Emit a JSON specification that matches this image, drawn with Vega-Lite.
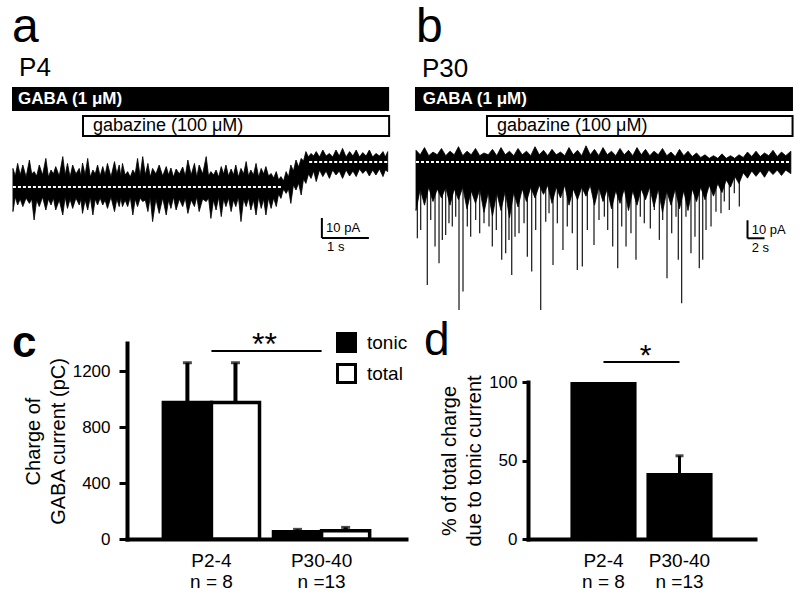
{
  "$schema": "https://vega.github.io/schema/vega-lite/v6.json",
  "background": "white",
  "padding": {"left": 11, "top": 0, "right": 7, "bottom": 0},
  "config": {
    "font": "Liberation Sans",
    "view": {"stroke": null},
    "axis": {"labelColor": "black", "titleColor": "black", "domainColor": "black", "tickColor": "black", "grid": false},
    "legend": {"labelColor": "black"}
  },
  "resolve": {"scale": {"x": "independent", "y": "independent", "fill": "independent"}, "legend": {"fill": "independent"}},
  "spacing": 0,
  "vconcat": [
    {
      "hconcat": [
        {
          "width": 379,
          "height": 318,
          "layer": [
            {
              "data": {"values": [{"drug": "GABA (1 μM)", "start": -0.02, "end": 8.0}]},
              "mark": {"type": "rect", "color": "black"},
              "encoding": {
                "x": {"field": "start", "type": "quantitative", "scale": {"domain": [-0.02, 8.04], "nice": false, "zero": false}, "axis": null},
                "x2": {"field": "end"},
                "y": {"datum": 50, "type": "quantitative", "scale": {"domain": [-65.5, 93.5], "nice": false, "zero": false}, "axis": null},
                "y2": {"datum": 38}
              }
            },
            {
              "data": {"values": [{"drug": "GABA (1 μM)"}]},
              "mark": {"type": "text", "color": "white", "fontWeight": "bold", "fontSize": 17, "align": "left", "baseline": "middle"},
              "encoding": {"x": {"datum": 0.106}, "y": {"datum": 44}, "text": {"field": "drug"}}
            },
            {
              "data": {"values": [{"drug": "gabazine (100 μM)", "start": 1.49, "end": 8.0}]},
              "mark": {"type": "rect", "fill": "white", "stroke": "black", "strokeWidth": 2},
              "encoding": {"x": {"field": "start", "type": "quantitative"}, "x2": {"field": "end"}, "y": {"datum": 35.5}, "y2": {"datum": 25.5}}
            },
            {
              "data": {"values": [{"drug": "gabazine (100 μM)"}]},
              "mark": {"type": "text", "color": "black", "fontSize": 18, "align": "left", "baseline": "middle"},
              "encoding": {"x": {"datum": 1.7}, "y": {"datum": 30.5}, "text": {"field": "drug"}}
            },
            {
              "data": {"values": [{"label": "a"}]},
              "mark": {"type": "text", "color": "black", "fontSize": 48, "align": "left", "baseline": "alphabetic"},
              "encoding": {"x": {"datum": -0.02}, "y": {"datum": 72.5}, "text": {"field": "label"}}
            },
            {
              "data": {"values": [{"label": "P4"}]},
              "mark": {"type": "text", "color": "black", "fontSize": 26, "align": "left", "baseline": "alphabetic"},
              "encoding": {"x": {"datum": 0.13}, "y": {"datum": 55.5}, "text": {"field": "label"}}
            },
            {
              "data": {"values": [
                {"t": 0.00, "hi": 9.3, "lo": -12.3}, {"t": 0.05, "hi": 5.5, "lo": -5}, {"t": 0.10, "hi": 11.8, "lo": -9}, {"t": 0.155, "hi": 6, "lo": -6},
                {"t": 0.21, "hi": 11, "lo": -9.8}, {"t": 0.28, "hi": 5, "lo": -5.5}, {"t": 0.35, "hi": 13.5, "lo": -8.2}, {"t": 0.40, "hi": 6.5, "lo": -6},
                {"t": 0.45, "hi": 7.7, "lo": -16.5}, {"t": 0.505, "hi": 5.5, "lo": -6.5}, {"t": 0.56, "hi": 11, "lo": -9.8}, {"t": 0.63, "hi": 6, "lo": -5},
                {"t": 0.70, "hi": 14.3, "lo": -11.5}, {"t": 0.755, "hi": 5, "lo": -6}, {"t": 0.81, "hi": 8.5, "lo": -9}, {"t": 0.86, "hi": 6.5, "lo": -5.5},
                {"t": 0.91, "hi": 10.2, "lo": -11.5}, {"t": 0.985, "hi": 5.5, "lo": -6.5}, {"t": 1.06, "hi": 15.2, "lo": -14}, {"t": 1.11, "hi": 6, "lo": -5},
                {"t": 1.16, "hi": 11.8, "lo": -10.7}, {"t": 1.215, "hi": 5, "lo": -6}, {"t": 1.27, "hi": 11, "lo": -10.7}, {"t": 1.34, "hi": 6.5, "lo": -5.5},
                {"t": 1.41, "hi": 9.3, "lo": -9}, {"t": 1.445, "hi": 5.5, "lo": -6}, {"t": 1.48, "hi": 12, "lo": -13.2}, {"t": 1.535, "hi": 6, "lo": -6.5},
                {"t": 1.59, "hi": 14.3, "lo": -11.5}, {"t": 1.645, "hi": 5, "lo": -5}, {"t": 1.70, "hi": 8.5, "lo": -14}, {"t": 1.75, "hi": 6.5, "lo": -6},
                {"t": 1.80, "hi": 11, "lo": -9}, {"t": 1.855, "hi": 5.5, "lo": -5.5}, {"t": 1.91, "hi": 10.2, "lo": -9}, {"t": 1.96, "hi": 6, "lo": -6.5},
                {"t": 2.01, "hi": 11.8, "lo": -10.7}, {"t": 2.085, "hi": 5, "lo": -5}, {"t": 2.16, "hi": 12.7, "lo": -12.3}, {"t": 2.21, "hi": 6.5, "lo": -6},
                {"t": 2.26, "hi": 11, "lo": -9.8}, {"t": 2.295, "hi": 5.5, "lo": -5.5}, {"t": 2.33, "hi": 11.8, "lo": -9.8}, {"t": 2.385, "hi": 6, "lo": -6.5},
                {"t": 2.44, "hi": 7.7, "lo": -9.8}, {"t": 2.495, "hi": 5, "lo": -5}, {"t": 2.55, "hi": 8.5, "lo": -14}, {"t": 2.60, "hi": 6.5, "lo": -6},
                {"t": 2.65, "hi": 14.3, "lo": -9.8}, {"t": 2.705, "hi": 5.5, "lo": -5.5}, {"t": 2.76, "hi": 15.2, "lo": -7.3}, {"t": 2.815, "hi": 6, "lo": -6.5},
                {"t": 2.87, "hi": 11.8, "lo": -12.3}, {"t": 2.92, "hi": 5, "lo": -5}, {"t": 2.97, "hi": 9.3, "lo": -17.3}, {"t": 3.04, "hi": 6.5, "lo": -6},
                {"t": 3.11, "hi": 11, "lo": -13.2}, {"t": 3.185, "hi": 5.5, "lo": -5.5}, {"t": 3.26, "hi": 10.2, "lo": -14}, {"t": 3.31, "hi": 6, "lo": -6.5},
                {"t": 3.36, "hi": 9.5, "lo": -10.7}, {"t": 3.415, "hi": 5, "lo": -5}, {"t": 3.47, "hi": 9, "lo": -11.5}, {"t": 3.54, "hi": 6.5, "lo": -6},
                {"t": 3.61, "hi": 10, "lo": -9.8}, {"t": 3.665, "hi": 5.5, "lo": -5.5}, {"t": 3.72, "hi": 13.5, "lo": -13.2}, {"t": 3.79, "hi": 6, "lo": -6.5},
                {"t": 3.86, "hi": 11.8, "lo": -9.8}, {"t": 3.91, "hi": 5, "lo": -5}, {"t": 3.96, "hi": 11, "lo": -12.3}, {"t": 4.035, "hi": 6.5, "lo": -6},
                {"t": 4.11, "hi": 15.2, "lo": -7.3}, {"t": 4.16, "hi": 5.5, "lo": -5.5}, {"t": 4.21, "hi": 7.7, "lo": -15.7}, {"t": 4.265, "hi": 6, "lo": -6.5},
                {"t": 4.32, "hi": 8.5, "lo": -11.5}, {"t": 4.375, "hi": 5, "lo": -5}, {"t": 4.43, "hi": 10.2, "lo": -14.8}, {"t": 4.48, "hi": 6.5, "lo": -6},
                {"t": 4.53, "hi": 11, "lo": -9.8}, {"t": 4.585, "hi": 5.5, "lo": -5.5}, {"t": 4.64, "hi": 9, "lo": -12.3}, {"t": 4.69, "hi": 6, "lo": -6.5},
                {"t": 4.74, "hi": 11, "lo": -9.8}, {"t": 4.795, "hi": 5, "lo": -5}, {"t": 4.85, "hi": 9.3, "lo": -17.3}, {"t": 4.905, "hi": 6.5, "lo": -6},
                {"t": 4.96, "hi": 12.7, "lo": -9.8}, {"t": 5.01, "hi": 5.5, "lo": -5.5}, {"t": 5.06, "hi": 8.5, "lo": -11.5}, {"t": 5.115, "hi": 6, "lo": -6.5},
                {"t": 5.17, "hi": 11.8, "lo": -14}, {"t": 5.225, "hi": 5, "lo": -5}, {"t": 5.28, "hi": 9.3, "lo": -10.7}, {"t": 5.33, "hi": 6.5, "lo": -6},
                {"t": 5.38, "hi": 10.2, "lo": -14}, {"t": 5.435, "hi": 5.5, "lo": -5.5}, {"t": 5.49, "hi": 6.8, "lo": -10.7}, {"t": 5.545, "hi": 4.5, "lo": -5.5},
                {"t": 5.60, "hi": 7.7, "lo": -9.8}, {"t": 5.65, "hi": 3.5, "lo": -3.5}, {"t": 5.70, "hi": 5.2, "lo": -5.7}, {"t": 5.755, "hi": 3, "lo": -1},
                {"t": 5.81, "hi": 7.7, "lo": -3.2}, {"t": 5.86, "hi": 5, "lo": -1}, {"t": 5.91, "hi": 11, "lo": -8.2}, {"t": 5.965, "hi": 8, "lo": 1},
                {"t": 6.02, "hi": 13.5, "lo": -1.5}, {"t": 6.075, "hi": 10, "lo": 2}, {"t": 6.13, "hi": 14.3, "lo": -4}, {"t": 6.18, "hi": 13, "lo": 4},
                {"t": 6.23, "hi": 17.7, "lo": 1.8}, {"t": 6.285, "hi": 15, "lo": 6.5}, {"t": 6.34, "hi": 16.8, "lo": 4.3}, {"t": 6.395, "hi": 15.5, "lo": 8},
                {"t": 6.45, "hi": 17.7, "lo": 2.7}, {"t": 6.52, "hi": 15, "lo": 8.5}, {"t": 6.59, "hi": 18.5, "lo": 5.2}, {"t": 6.66, "hi": 15.5, "lo": 8},
                {"t": 6.73, "hi": 16.8, "lo": 4.3}, {"t": 6.80, "hi": 15, "lo": 8.5}, {"t": 6.87, "hi": 18.5, "lo": 6}, {"t": 6.94, "hi": 15.5, "lo": 8},
                {"t": 7.01, "hi": 19.3, "lo": 4.3}, {"t": 7.085, "hi": 15, "lo": 8.5}, {"t": 7.16, "hi": 17.7, "lo": 5.5}, {"t": 7.23, "hi": 15.5, "lo": 8},
                {"t": 7.30, "hi": 18.5, "lo": 5.2}, {"t": 7.37, "hi": 15, "lo": 9}, {"t": 7.44, "hi": 17.2, "lo": 6.8}, {"t": 7.51, "hi": 15.5, "lo": 8.5},
                {"t": 7.58, "hi": 18.5, "lo": 5.5}, {"t": 7.65, "hi": 15, "lo": 8.5}, {"t": 7.72, "hi": 16.8, "lo": 6}, {"t": 7.795, "hi": 15.5, "lo": 9},
                {"t": 7.87, "hi": 17.7, "lo": 5.2}, {"t": 7.92, "hi": 15, "lo": 8.5}, {"t": 7.97, "hi": 17.7, "lo": 7.7}
              ]},
              "mark": {"type": "area", "color": "black", "stroke": "black", "strokeWidth": 0.8},
              "encoding": {"x": {"field": "t", "type": "quantitative"}, "y": {"field": "hi", "type": "quantitative"}, "y2": {"field": "lo"}}
            },
            {
              "data": {"values": [{"start": 0, "end": 5.7, "level": 0}, {"start": 6.3, "end": 7.98, "level": 12.5}]},
              "mark": {"type": "rule", "color": "white", "strokeWidth": 2, "strokeDash": [3, 2]},
              "encoding": {"x": {"field": "start", "type": "quantitative"}, "x2": {"field": "end"}, "y": {"field": "level", "type": "quantitative"}}
            },
            {
              "data": {"values": [{"label": "10 pA"}]},
              "mark": {"type": "rule", "color": "black", "strokeWidth": 2},
              "encoding": {"x": {"datum": 6.57}, "y": {"datum": -15.5}, "y2": {"datum": -25.5}}
            },
            {
              "data": {"values": [{"label": "1 s"}]},
              "mark": {"type": "rule", "color": "black", "strokeWidth": 2},
              "encoding": {"x": {"datum": 6.57}, "x2": {"datum": 7.57}, "y": {"datum": -25.5}}
            },
            {
              "data": {"values": [{"label": "10 pA"}]},
              "mark": {"type": "text", "color": "black", "fontSize": 13, "align": "left", "baseline": "middle"},
              "encoding": {"x": {"datum": 6.66}, "y": {"datum": -20.5}, "text": {"field": "label"}}
            },
            {
              "data": {"values": [{"label": "1 s"}]},
              "mark": {"type": "text", "color": "black", "fontSize": 13, "align": "left", "baseline": "middle"},
              "encoding": {"x": {"datum": 6.68}, "y": {"datum": -30}, "text": {"field": "label"}}
            }
          ]
        },
        {
          "width": 380,
          "height": 318,
          "layer": [
            {
              "data": {"values": [{"drug": "GABA (1 μM)", "start": -0.12, "end": 44.35}]},
              "mark": {"type": "rect", "color": "black"},
              "encoding": {
                "x": {"field": "start", "type": "quantitative", "scale": {"domain": [-0.235, 44.47], "nice": false, "zero": false}, "axis": null},
                "x2": {"field": "end"},
                "y": {"datum": 41.7, "type": "quantitative", "scale": {"domain": [-86.7, 90], "nice": false, "zero": false}, "axis": null},
                "y2": {"datum": 28.3}
              }
            },
            {
              "data": {"values": [{"drug": "GABA (1 μM)"}]},
              "mark": {"type": "text", "color": "white", "fontWeight": "bold", "fontSize": 17, "align": "left", "baseline": "middle"},
              "encoding": {"x": {"datum": 0.79}, "y": {"datum": 35}, "text": {"field": "drug"}}
            },
            {
              "data": {"values": [{"drug": "gabazine (100 μM)", "start": 8.35, "end": 44.3}]},
              "mark": {"type": "rect", "fill": "white", "stroke": "black", "strokeWidth": 2},
              "encoding": {"x": {"field": "start", "type": "quantitative"}, "x2": {"field": "end"}, "y": {"datum": 25.6}, "y2": {"datum": 14.4}}
            },
            {
              "data": {"values": [{"drug": "gabazine (100 μM)"}]},
              "mark": {"type": "text", "color": "black", "fontSize": 18, "align": "left", "baseline": "middle"},
              "encoding": {"x": {"datum": 9.53}, "y": {"datum": 20}, "text": {"field": "drug"}}
            },
            {
              "data": {"values": [{"label": "b"}]},
              "mark": {"type": "text", "color": "black", "fontSize": 48, "align": "left", "baseline": "alphabetic"},
              "encoding": {"x": {"datum": 0}, "y": {"datum": 66.7}, "text": {"field": "label"}}
            },
            {
              "data": {"values": [{"label": "P30"}]},
              "mark": {"type": "text", "color": "black", "fontSize": 26, "align": "left", "baseline": "alphabetic"},
              "encoding": {"x": {"datum": 0.7}, "y": {"datum": 47.2}, "text": {"field": "label"}}
            },
            {
              "data": {"values": [
                {"t": 0.16, "tip": -42.4}, {"t": 0.55, "tip": -37.8}, {"t": 1.33, "tip": -68.3}, {"t": 1.73, "tip": -32.2}, {"t": 2.24, "tip": -47.0},
                {"t": 2.71, "tip": -56.3}, {"t": 3.10, "tip": -43.3}, {"t": 3.49, "tip": -40.6}, {"t": 3.88, "tip": -34.1}, {"t": 4.27, "tip": -35.9},
                {"t": 4.67, "tip": -30.4}, {"t": 5.06, "tip": -82.2}, {"t": 5.53, "tip": -72.0}, {"t": 6.04, "tip": -35.9}, {"t": 6.43, "tip": -41.5},
                {"t": 7.02, "tip": -32.2}, {"t": 7.49, "tip": -39.6}, {"t": 8.0, "tip": -34.1}, {"t": 8.59, "tip": -35.9}, {"t": 8.98, "tip": -47.0},
                {"t": 9.45, "tip": -37.8}, {"t": 10.08, "tip": -54.4}, {"t": 10.55, "tip": -50.7}, {"t": 10.94, "tip": -43.3}, {"t": 11.26, "tip": -62.8},
                {"t": 11.65, "tip": -41.5}, {"t": 12.12, "tip": -39.6}, {"t": 12.71, "tip": -34.1}, {"t": 13.10, "tip": -52.6}, {"t": 13.61, "tip": -60.9},
                {"t": 14.08, "tip": -37.8}, {"t": 14.67, "tip": -82.2}, {"t": 15.26, "tip": -33.2}, {"t": 15.65, "tip": -28.5}, {"t": 16.12, "tip": -57.2},
                {"t": 16.63, "tip": -34.1}, {"t": 17.29, "tip": -48.9}, {"t": 17.80, "tip": -35.9}, {"t": 18.39, "tip": -39.6}, {"t": 18.98, "tip": -60.0},
                {"t": 19.57, "tip": -58.1}, {"t": 20.16, "tip": -37.8}, {"t": 20.94, "tip": -46.1}, {"t": 21.53, "tip": -32.2}, {"t": 22.16, "tip": -30.4},
                {"t": 22.55, "tip": -37.8}, {"t": 23.14, "tip": -47.0}, {"t": 23.73, "tip": -59.1}, {"t": 24.20, "tip": -35.9}, {"t": 24.71, "tip": -47.0},
                {"t": 25.29, "tip": -39.6}, {"t": 25.88, "tip": -54.4}, {"t": 26.39, "tip": -30.4}, {"t": 26.86, "tip": -34.1}, {"t": 27.57, "tip": -36.9},
                {"t": 28.04, "tip": -26.7}, {"t": 28.63, "tip": -43.3}, {"t": 29.02, "tip": -32.2}, {"t": 29.53, "tip": -64.6}, {"t": 30.08, "tip": -39.6},
                {"t": 30.59, "tip": -30.4}, {"t": 30.86, "tip": -54.4}, {"t": 31.25, "tip": -78.5}, {"t": 31.76, "tip": -30.4}, {"t": 32.35, "tip": -50.7},
                {"t": 32.82, "tip": -41.5}, {"t": 33.33, "tip": -59.1}, {"t": 33.73, "tip": -54.4}, {"t": 34.12, "tip": -37.8}, {"t": 34.71, "tip": -35.9},
                {"t": 35.29, "tip": -27.6}, {"t": 35.88, "tip": -28.5}, {"t": 36.27, "tip": -22.0}, {"t": 36.86, "tip": -26.7}, {"t": 37.45, "tip": -17.4},
                {"t": 38.04, "tip": -24.8}
              ]},
              "mark": {"type": "rule", "color": "#262626", "strokeWidth": 1.3},
              "encoding": {"x": {"field": "t", "type": "quantitative"}, "y": {"field": "tip", "type": "quantitative"}, "y2": {"datum": -5}}
            },
            {
              "data": {"values": [
                {"t": 0, "hi": 6.5, "lo": -27}, {"t": 0.5, "hi": 4, "lo": -15}, {"t": 1, "hi": 8, "lo": -24}, {"t": 1.5, "hi": 3.5, "lo": -14},
                {"t": 2, "hi": 5.5, "lo": -22}, {"t": 2.5, "hi": 4, "lo": -15}, {"t": 3, "hi": 7.5, "lo": -20}, {"t": 3.5, "hi": 3.5, "lo": -14},
                {"t": 4, "hi": 6, "lo": -24}, {"t": 4.5, "hi": 4, "lo": -15}, {"t": 5, "hi": 8.5, "lo": -21}, {"t": 5.5, "hi": 3.5, "lo": -14},
                {"t": 6, "hi": 6, "lo": -26}, {"t": 6.5, "hi": 4, "lo": -16}, {"t": 7, "hi": 7.5, "lo": -23}, {"t": 7.5, "hi": 3.5, "lo": -15},
                {"t": 8, "hi": 5, "lo": -28}, {"t": 8.5, "hi": 4, "lo": -17}, {"t": 9, "hi": 7, "lo": -30}, {"t": 9.5, "hi": 3.5, "lo": -17},
                {"t": 10, "hi": 8, "lo": -27}, {"t": 10.5, "hi": 4, "lo": -16}, {"t": 11, "hi": 6, "lo": -31}, {"t": 11.5, "hi": 3.5, "lo": -17},
                {"t": 12, "hi": 7.5, "lo": -25}, {"t": 12.5, "hi": 4, "lo": -15}, {"t": 13, "hi": 6, "lo": -22}, {"t": 13.5, "hi": 3.5, "lo": -14},
                {"t": 14, "hi": 8.5, "lo": -20}, {"t": 14.5, "hi": 4, "lo": -13}, {"t": 15, "hi": 6.5, "lo": -18}, {"t": 15.5, "hi": 3.5, "lo": -13},
                {"t": 16, "hi": 7, "lo": -23}, {"t": 16.5, "hi": 4, "lo": -14}, {"t": 17, "hi": 5.5, "lo": -20}, {"t": 17.5, "hi": 3.5, "lo": -13},
                {"t": 18, "hi": 8, "lo": -24}, {"t": 18.5, "hi": 4, "lo": -15}, {"t": 19, "hi": 6.5, "lo": -21}, {"t": 19.5, "hi": 3.5, "lo": -14},
                {"t": 20, "hi": 9, "lo": -19}, {"t": 20.5, "hi": 4, "lo": -13}, {"t": 21, "hi": 7, "lo": -24}, {"t": 21.5, "hi": 3.5, "lo": -14},
                {"t": 22, "hi": 8, "lo": -22}, {"t": 22.5, "hi": 4, "lo": -15}, {"t": 23, "hi": 6, "lo": -26}, {"t": 23.5, "hi": 3.5, "lo": -16},
                {"t": 24, "hi": 7.5, "lo": -23}, {"t": 24.5, "hi": 4, "lo": -15}, {"t": 25, "hi": 6.5, "lo": -27}, {"t": 25.5, "hi": 3.5, "lo": -16},
                {"t": 26, "hi": 8, "lo": -24}, {"t": 26.5, "hi": 4, "lo": -15}, {"t": 27, "hi": 7, "lo": -21}, {"t": 27.5, "hi": 3.5, "lo": -14},
                {"t": 28, "hi": 6, "lo": -25}, {"t": 28.5, "hi": 4, "lo": -15}, {"t": 29, "hi": 7.5, "lo": -28}, {"t": 29.5, "hi": 3.5, "lo": -16},
                {"t": 30, "hi": 5.5, "lo": -24}, {"t": 30.5, "hi": 3, "lo": -15}, {"t": 31, "hi": 7, "lo": -26}, {"t": 31.5, "hi": 3.5, "lo": -16},
                {"t": 32, "hi": 6, "lo": -27}, {"t": 32.5, "hi": 3, "lo": -15}, {"t": 33, "hi": 5, "lo": -22}, {"t": 33.5, "hi": 2.5, "lo": -14},
                {"t": 34, "hi": 4, "lo": -21}, {"t": 34.5, "hi": 2, "lo": -13}, {"t": 35, "hi": 3.5, "lo": -19}, {"t": 35.5, "hi": 2, "lo": -12},
                {"t": 36, "hi": 4.5, "lo": -17}, {"t": 36.5, "hi": 2, "lo": -10}, {"t": 37, "hi": 3.5, "lo": -14}, {"t": 37.5, "hi": 2, "lo": -8},
                {"t": 38, "hi": 4, "lo": -12}, {"t": 38.5, "hi": 2.5, "lo": -6}, {"t": 39, "hi": 5.5, "lo": -9}, {"t": 39.5, "hi": 3, "lo": -5},
                {"t": 40, "hi": 6, "lo": -8}, {"t": 40.5, "hi": 3, "lo": -5}, {"t": 41, "hi": 5, "lo": -8.5}, {"t": 41.5, "hi": 3.5, "lo": -4.5},
                {"t": 42, "hi": 6.5, "lo": -7}, {"t": 42.5, "hi": 3, "lo": -4.5}, {"t": 43, "hi": 5.5, "lo": -7.5}, {"t": 43.5, "hi": 3.5, "lo": -4.5},
                {"t": 44.1, "hi": 6, "lo": -6.5}
              ]},
              "mark": {"type": "area", "color": "black", "stroke": "black", "strokeWidth": 0.8},
              "encoding": {"x": {"field": "t", "type": "quantitative"}, "y": {"field": "hi", "type": "quantitative"}, "y2": {"field": "lo"}}
            },
            {
              "data": {"values": [{"start": 0, "end": 44.1, "level": 0}]},
              "mark": {"type": "rule", "color": "white", "strokeWidth": 2, "strokeDash": [3, 2]},
              "encoding": {"x": {"field": "start", "type": "quantitative"}, "x2": {"field": "end"}, "y": {"field": "level", "type": "quantitative"}}
            },
            {
              "data": {"values": [{"label": "10 pA"}]},
              "mark": {"type": "rule", "color": "black", "strokeWidth": 2},
              "encoding": {"x": {"datum": 39.0}, "y": {"datum": -32.4}, "y2": {"datum": -42.4}}
            },
            {
              "data": {"values": [{"label": "2 s"}]},
              "mark": {"type": "rule", "color": "black", "strokeWidth": 2},
              "encoding": {"x": {"datum": 39.0}, "x2": {"datum": 41.0}, "y": {"datum": -42.4}}
            },
            {
              "data": {"values": [{"label": "10 pA"}]},
              "mark": {"type": "text", "color": "black", "fontSize": 13, "align": "left", "baseline": "middle"},
              "encoding": {"x": {"datum": 39.5}, "y": {"datum": -37.6}, "text": {"field": "label"}}
            },
            {
              "data": {"values": [{"label": "2 s"}]},
              "mark": {"type": "text", "color": "black", "fontSize": 13, "align": "left", "baseline": "middle"},
              "encoding": {"x": {"datum": 39.5}, "y": {"datum": -47.8}, "text": {"field": "label"}}
            }
          ]
        }
      ],
      "spacing": 23,
      "bounds": "flush",
      "resolve": {"scale": {"x": "independent", "y": "independent"}}
    },
    {
      "hconcat": [
        {
          "width": 1,
          "height": 196,
          "data": {"values": []},
          "mark": "point"
        },
        {
          "hconcat": [
            {
              "width": 279,
              "height": 196,
              "title": {"text": "c", "anchor": "start", "frame": "group", "fontSize": 44, "fontWeight": "bold", "color": "black", "dx": -115, "dy": 72, "offset": 0, "baseline": "alphabetic"},
              "data": {"values": [
                {"group": "P2-4|n = 8", "measure": "tonic", "charge": 975, "upper": 1259},
                {"group": "P2-4|n = 8", "measure": "total", "charge": 975, "upper": 1259},
                {"group": "P30-40|n =13", "measure": "tonic", "charge": 52, "upper": 69},
                {"group": "P30-40|n =13", "measure": "total", "charge": 59, "upper": 83}
              ]},
              "layer": [
                {
                  "mark": {"type": "bar", "stroke": "black", "strokeWidth": 3.5},
                  "encoding": {
                    "x": {"field": "group", "type": "nominal", "sort": null, "scale": {"paddingInner": 0.127, "paddingOuter": 0.33},
                      "axis": {"title": null, "labelAngle": 0, "labelExpr": "split(datum.value, '|')", "labelFontSize": 19, "labelLineHeight": 21, "labelPadding": 12, "ticks": false, "domainWidth": 4, "domainCap": "square"}},
                    "xOffset": {"field": "measure", "type": "nominal", "scale": {"paddingInner": 0, "paddingOuter": 0}},
                    "y": {"field": "charge", "type": "quantitative", "scale": {"domain": [0, 1400], "nice": false},
                      "axis": {"values": [0, 400, 800, 1200], "format": "d", "title": ["Charge of", "GABA current (pC)"], "titleFontSize": 20, "titleFontWeight": "normal", "titleLineHeight": 25, "titlePadding": 4, "labelFontSize": 17, "labelPadding": 9, "tickSize": 8, "tickWidth": 3, "domainWidth": 4, "domainCap": "square"}},
                    "fill": {"field": "measure", "type": "nominal", "scale": {"domain": ["tonic", "total"], "range": ["black", "white"]},
                      "legend": {"orient": "none", "legendX": 209, "legendY": -11, "title": null, "symbolType": "square", "symbolSize": 324, "symbolStrokeWidth": 3, "symbolStrokeColor": "black", "labelFontSize": 19, "labelOffset": 10, "rowPadding": 0, "padding": 0}}
                  }
                },
                {
                  "mark": {"type": "rule", "color": "black", "strokeWidth": 4},
                  "encoding": {
                    "x": {"field": "group", "type": "nominal", "sort": null},
                    "xOffset": {"field": "measure", "type": "nominal"},
                    "y": {"field": "charge", "type": "quantitative"},
                    "y2": {"field": "upper"}
                  }
                },
                {
                  "mark": {"type": "tick", "orient": "horizontal", "color": "black", "thickness": 3, "size": 9},
                  "encoding": {
                    "x": {"field": "group", "type": "nominal", "sort": null},
                    "xOffset": {"field": "measure", "type": "nominal"},
                    "y": {"field": "upper", "type": "quantitative"}
                  }
                },
                {
                  "data": {"values": [{"from": "P2-4|n = 8", "to": "P30-40|n =13", "label": "**"}]},
                  "mark": {"type": "rule", "color": "black", "strokeWidth": 2},
                  "encoding": {"x": {"field": "from", "type": "nominal"}, "x2": {"field": "to"}, "y": {"datum": 1343}}
                },
                {
                  "data": {"values": [{"from": "P2-4|n = 8", "to": "P30-40|n =13", "label": "**"}]},
                  "mark": {"type": "text", "color": "black", "fontSize": 32, "align": "center", "baseline": "alphabetic", "dx": 53},
                  "encoding": {"x": {"field": "from", "type": "nominal"}, "y": {"datum": 1314}, "text": {"field": "label"}}
                }
              ]
            },
            {
              "width": 227,
              "height": 196,
              "title": {"text": "d", "anchor": "start", "frame": "group", "fontSize": 46, "fontWeight": "normal", "color": "black", "dx": -104, "dy": 60, "offset": 0, "baseline": "alphabetic"},
              "data": {"values": [
                {"group": "P2-4|n = 8", "pct": 100, "upper": null},
                {"group": "P30-40|n =13", "pct": 42, "upper": 53}
              ]},
              "layer": [
                {
                  "mark": {"type": "bar", "color": "black"},
                  "encoding": {
                    "x": {"field": "group", "type": "nominal", "sort": null, "scale": {"paddingInner": 0.13, "paddingOuter": 0.558},
                      "axis": {"title": null, "labelAngle": 0, "labelExpr": "split(datum.value, '|')", "labelFontSize": 19, "labelLineHeight": 21, "labelPadding": 12, "ticks": false, "domainWidth": 4, "domainCap": "square"}},
                    "y": {"field": "pct", "type": "quantitative", "scale": {"domain": [0, 100], "nice": false, "rangeMax": 39},
                      "axis": {"values": [0, 50, 100], "title": ["% of total charge", "due to tonic current"], "titleFontSize": 20, "titleFontWeight": "normal", "titleLineHeight": 25, "titlePadding": 4, "labelFontSize": 17, "labelPadding": 5, "tickSize": 6, "tickWidth": 3, "domainWidth": 4, "domainCap": "square"}}
                  }
                },
                {
                  "transform": [{"filter": "datum.upper != null"}],
                  "mark": {"type": "rule", "color": "black", "strokeWidth": 3},
                  "encoding": {"x": {"field": "group", "type": "nominal", "sort": null}, "y": {"field": "pct", "type": "quantitative"}, "y2": {"field": "upper"}}
                },
                {
                  "transform": [{"filter": "datum.upper != null"}],
                  "mark": {"type": "tick", "orient": "horizontal", "color": "black", "thickness": 3, "size": 8},
                  "encoding": {"x": {"field": "group", "type": "nominal", "sort": null}, "y": {"field": "upper", "type": "quantitative"}}
                },
                {
                  "data": {"values": [{"from": "P2-4|n = 8", "to": "P30-40|n =13", "label": "*"}]},
                  "mark": {"type": "rule", "color": "black", "strokeWidth": 2},
                  "encoding": {"x": {"field": "from", "type": "nominal"}, "x2": {"field": "to"}, "y": {"datum": 112.7}}
                },
                {
                  "data": {"values": [{"from": "P2-4|n = 8", "to": "P30-40|n =13", "label": "*"}]},
                  "mark": {"type": "text", "color": "black", "fontSize": 30, "align": "center", "baseline": "alphabetic", "dx": 42},
                  "encoding": {"x": {"field": "from", "type": "nominal"}, "y": {"datum": 110.8}, "text": {"field": "label"}}
                }
              ]
            }
          ],
          "spacing": 122,
          "bounds": "flush",
          "resolve": {"scale": {"x": "independent", "y": "independent", "fill": "independent"}, "legend": {"fill": "independent"}}
        }
      ],
      "spacing": 114,
      "bounds": "flush",
      "resolve": {"scale": {"x": "independent", "y": "independent", "fill": "independent"}, "legend": {"fill": "independent"}}
    }
  ]
}
